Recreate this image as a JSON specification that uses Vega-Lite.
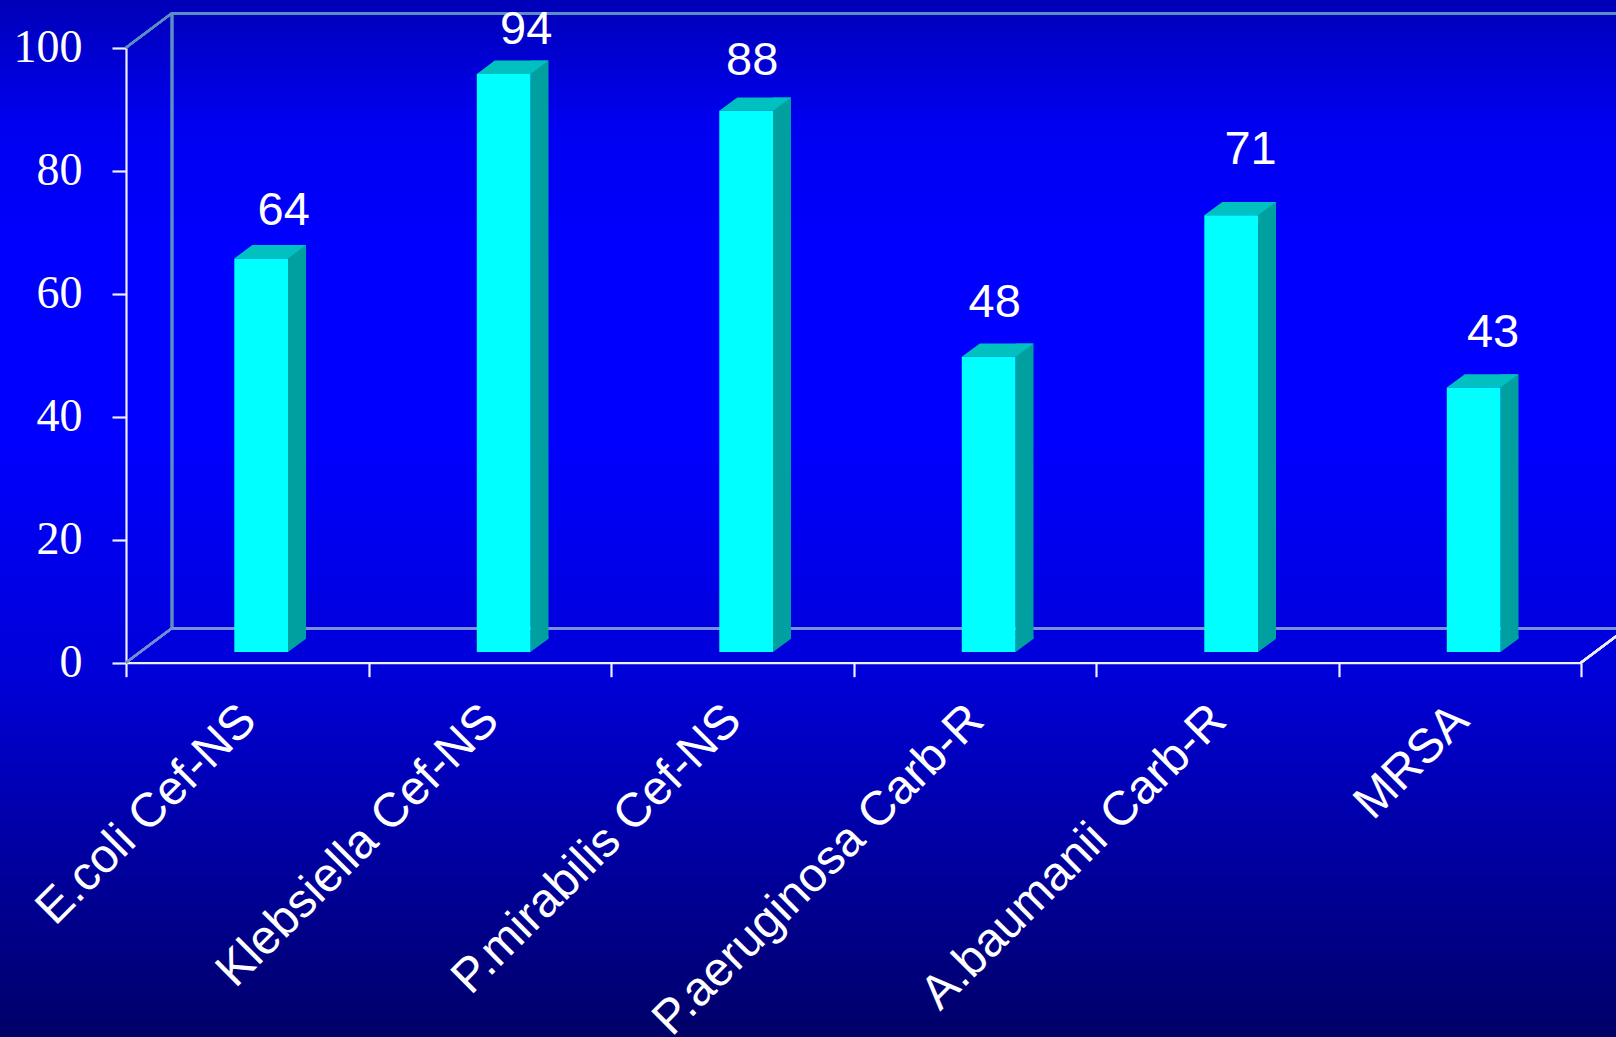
{
  "$schema": "https://vega.github.io/schema/vega-lite/v6.json",
  "width": 1616,
  "height": 1037,
  "padding": 0,
  "autosize": "none",
  "config": {
    "view": {
      "stroke": null,
      "fill": {
        "gradient": "linear",
        "x1": 0, "y1": 0, "x2": 0, "y2": 1,
        "stops": [
          {"offset": 0, "color": "#0000b8"},
          {"offset": 0.12, "color": "#0000f0"},
          {"offset": 0.25, "color": "#0000ff"},
          {"offset": 0.42, "color": "#0000ff"},
          {"offset": 0.65, "color": "#0000d8"},
          {"offset": 1, "color": "#000068"}
        ]
      }
    }
  },
  "data": {
    "values": [
      {"organism": "E.coli Cef-NS", "resistance": 64},
      {"organism": "Klebsiella Cef-NS", "resistance": 94},
      {"organism": "P.mirabilis Cef-NS", "resistance": 88},
      {"organism": "P.aeruginosa Carb-R", "resistance": 48},
      {"organism": "A.baumanii Carb-R", "resistance": 71},
      {"organism": "MRSA", "resistance": 43}
    ]
  },
  "encoding": {
    "x": {
      "field": "organism",
      "type": "nominal",
      "sort": null,
      "title": null,
      "scale": {
        "domain": ["E.coli Cef-NS", "Klebsiella Cef-NS", "P.mirabilis Cef-NS", "P.aeruginosa Carb-R", "A.baumanii Carb-R", "MRSA"],
        "range": [126, 1581],
        "paddingInner": 0,
        "paddingOuter": 0
      },
      "axis": {
        "orient": "bottom",
        "offset": -374.3,
        "tickBand": "extent",
        "tickSize": 14,
        "tickWidth": 2.2,
        "tickColor": "#eeeeff",
        "domainColor": "#eeeeff",
        "domainWidth": 2.2,
        "labelAngle": -45,
        "labelAlign": "right",
        "labelBaseline": "middle",
        "labelFont": "Liberation Sans",
        "labelFontSize": 48,
        "labelColor": "#ffffff",
        "labelPadding": 36,
        "labelOffset": 1,
        "labelLimit": 0,
        "labelOverlap": false,
        "labelBound": false,
        "labelFlush": false,
        "grid": false
      }
    },
    "y": {
      "field": "resistance",
      "type": "quantitative",
      "title": null,
      "stack": null,
      "scale": {"domain": [0, 100], "nice": false, "range": [662.7, 47.7]},
      "axis": {
        "orient": "left",
        "offset": -126,
        "values": [0, 20, 40, 60, 80, 100],
        "tickSize": 14,
        "tickWidth": 2.2,
        "tickColor": "#eeeeff",
        "domainColor": "#eeeeff",
        "domainWidth": 2.2,
        "labelFont": "Liberation Serif",
        "labelFontSize": 46,
        "labelColor": "#ffffff",
        "labelPadding": 30,
        "labelBaseline": "middle",
        "labelOverlap": false,
        "labelBound": false,
        "labelFlush": false,
        "grid": false
      }
    }
  },
  "layer": [
    {
      "description": "Back wall, left edge",
      "mark": {"type": "rule", "color": "#5b8fc4", "strokeWidth": 2.4, "xOffset": 46, "yOffset": -34.5, "y2Offset": -34.5},
      "encoding": {
        "x": {"datum": "E.coli Cef-NS", "bandPosition": 0},
        "y": {"datum": 0},
        "y2": {"datum": 100}
      }
    },
    {
      "description": "Back wall, top edge",
      "mark": {"type": "rule", "color": "#5b8fc4", "strokeWidth": 2.4, "xOffset": 46, "x2Offset": 200, "yOffset": -34.5},
      "encoding": {
        "x": {"datum": "E.coli Cef-NS", "bandPosition": 0},
        "x2": {"datum": "MRSA"},
        "y": {"datum": 100}
      }
    },
    {
      "description": "Floor, back edge",
      "mark": {"type": "rule", "color": "#7c8fd8", "strokeWidth": 2.4, "xOffset": 46, "x2Offset": 200, "yOffset": -34.5},
      "encoding": {
        "x": {"datum": "E.coli Cef-NS", "bandPosition": 0},
        "x2": {"datum": "MRSA"},
        "y": {"datum": 0}
      }
    },
    {
      "description": "Depth edges at the top-left and bottom-left corners",
      "mark": {"type": "point", "shape": "M0,0L46,-34.5", "size": 4, "filled": false, "opacity": 1, "stroke": "#5b8fc4", "strokeWidth": 2.2},
      "encoding": {
        "x": {"datum": "E.coli Cef-NS", "bandPosition": 0},
        "y": {"datum": 100}
      }
    },
    {
      "mark": {"type": "point", "shape": "M0,0L46,-34.5", "size": 4, "filled": false, "opacity": 1, "stroke": "#6f8fd0", "strokeWidth": 2.2},
      "encoding": {
        "x": {"datum": "E.coli Cef-NS", "bandPosition": 0},
        "y": {"datum": 0}
      }
    },
    {
      "description": "Depth edge of the floor at the right end of the axis",
      "mark": {"type": "point", "shape": "M0,0L46,-34.5", "size": 4, "filled": false, "opacity": 1, "stroke": "#eeeeff", "strokeWidth": 2.2},
      "encoding": {
        "x": {"datum": "MRSA", "bandPosition": 1},
        "y": {"datum": 0}
      }
    },
    {
      "description": "Bar side face: upper rectangle",
      "mark": {"type": "bar", "width": 18, "color": "#00a0a0", "opacity": 1, "xOffset": 49.75, "yOffset": -24, "y2Offset": -24},
      "encoding": {"y2": {"datum": 0}}
    },
    {
      "description": "Bar side face: lower corner, overlapping the rectangle above it",
      "mark": {"type": "point", "shape": "M0,0L18,-13.3L18,-16L0,-16Z", "size": 4, "filled": true, "opacity": 1, "color": "#00a0a0", "xOffset": 40.75, "yOffset": -10.7},
      "encoding": {"y": {"datum": 0}}
    },
    {
      "description": "Bar top face",
      "mark": {"type": "point", "shape": "M0,0L18,-13.3L71.7,-13.3L53.7,0Z", "size": 4, "filled": true, "opacity": 1, "color": "#00c0c0", "xOffset": -12.95, "yOffset": -10.7}
    },
    {
      "description": "Bar front face",
      "mark": {"type": "bar", "width": 53.7, "color": "#00ffff", "opacity": 1, "xOffset": 13.9, "yOffset": -10.7, "y2Offset": -10.7},
      "encoding": {"y2": {"datum": 0}}
    },
    {
      "description": "Value label, E.coli",
      "transform": [{"filter": "datum.organism === 'E.coli Cef-NS'"}],
      "mark": {"type": "text", "font": "Liberation Sans", "fontSize": 47, "color": "#ffffff", "align": "center", "baseline": "alphabetic", "xOffset": 36.4, "yOffset": -44},
      "encoding": {"text": {"field": "resistance", "type": "quantitative"}}
    },
    {
      "description": "Value label, Klebsiella",
      "transform": [{"filter": "datum.organism === 'Klebsiella Cef-NS'"}],
      "mark": {"type": "text", "font": "Liberation Sans", "fontSize": 47, "color": "#ffffff", "align": "center", "baseline": "alphabetic", "xOffset": 36.4, "yOffset": -41},
      "encoding": {"text": {"field": "resistance", "type": "quantitative"}}
    },
    {
      "description": "Value label, P.mirabilis",
      "transform": [{"filter": "datum.organism === 'P.mirabilis Cef-NS'"}],
      "mark": {"type": "text", "font": "Liberation Sans", "fontSize": 47, "color": "#ffffff", "align": "center", "baseline": "alphabetic", "xOffset": 19.9, "yOffset": -47},
      "encoding": {"text": {"field": "resistance", "type": "quantitative"}}
    },
    {
      "description": "Value label, P.aeruginosa",
      "transform": [{"filter": "datum.organism === 'P.aeruginosa Carb-R'"}],
      "mark": {"type": "text", "font": "Liberation Sans", "fontSize": 47, "color": "#ffffff", "align": "center", "baseline": "alphabetic", "xOffset": 19.9, "yOffset": -51},
      "encoding": {"text": {"field": "resistance", "type": "quantitative"}}
    },
    {
      "description": "Value label, A.baumanii",
      "transform": [{"filter": "datum.organism === 'A.baumanii Carb-R'"}],
      "mark": {"type": "text", "font": "Liberation Sans", "fontSize": 47, "color": "#ffffff", "align": "center", "baseline": "alphabetic", "xOffset": 33.3, "yOffset": -62},
      "encoding": {"text": {"field": "resistance", "type": "quantitative"}}
    },
    {
      "description": "Value label, MRSA",
      "transform": [{"filter": "datum.organism === 'MRSA'"}],
      "mark": {"type": "text", "font": "Liberation Sans", "fontSize": 47, "color": "#ffffff", "align": "center", "baseline": "alphabetic", "xOffset": 33.3, "yOffset": -51},
      "encoding": {"text": {"field": "resistance", "type": "quantitative"}}
    }
  ]
}
